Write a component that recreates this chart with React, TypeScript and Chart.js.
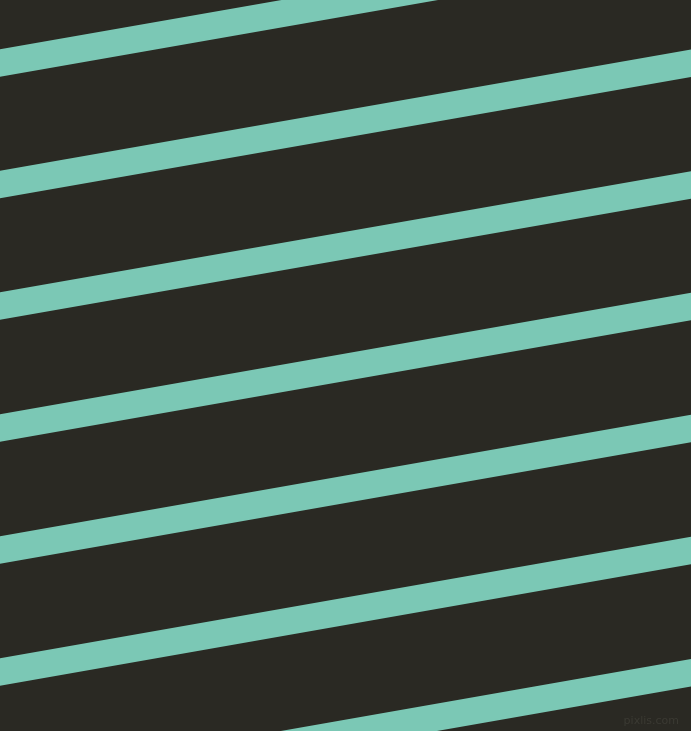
import { useEffect, useRef } from "react"
import { Chart, registerables } from "chart.js"

Chart.register(...registerables)

// stripe centre lines, read at the left (x=0) and right (x=691) edges
const edgeX = [0, 691]
const stripeLeftY = [63, 184.5, 306, 428, 550, 672, 794]
const stripeRightY = [-58, 63.3, 185, 306.5, 428.5, 550.5, 672.7]

const BG = "#2a2923"
const STRIPE = "#7bc8b5"

const watermark = {
  id: "watermark",
  afterDraw(chart: Chart) {
    const { ctx } = chart
    ctx.save()
    ctx.font = "11px 'DejaVu Sans'"
    ctx.fillStyle = "#3b3a33"
    ctx.textAlign = "right"
    ctx.textBaseline = "bottom"
    ctx.fillText("pixlis.com", 679, 727)
    ctx.restore()
  },
}

export default function App() {
  const chartRef = useRef<HTMLCanvasElement>(null)
  const chartInstance = useRef<Chart | null>(null)

  useEffect(() => {
    if (!chartRef.current) return
    if (chartInstance.current) chartInstance.current.destroy()
    const ctx = chartRef.current.getContext("2d")
    if (!ctx) return

    const datasets = stripeLeftY.map((y0, i) => ({
      label: `stripe ${i + 1}`,
      data: [
        { x: edgeX[0], y: y0 },
        { x: edgeX[1], y: stripeRightY[i] },
      ],
      borderColor: STRIPE,
      borderWidth: 27,
      borderCapStyle: "square" as const,
      pointRadius: 0,
      tension: 0,
    }))

    chartInstance.current = new Chart(ctx, {
      type: "line",
      data: { datasets },
      options: {
        animation: false,
        responsive: true,
        maintainAspectRatio: false,
        layout: { padding: 0 },
        plugins: {
          legend: { display: false },
          tooltip: { enabled: false },
        },
        scales: {
          x: { type: "linear", min: 0, max: 691, display: false },
          y: { type: "linear", min: 0, max: 731, reverse: true, display: false },
        },
      },
      plugins: [watermark],
    })

    return () => {
      if (chartInstance.current) {
        chartInstance.current.destroy()
        chartInstance.current = null
      }
    }
  }, [])

  return (
    <div
      style={{
        position: "absolute",
        left: 0,
        top: 0,
        width: 691,
        height: 731,
        background: BG,
      }}
    >
      <canvas ref={chartRef} />
    </div>
  )
}
